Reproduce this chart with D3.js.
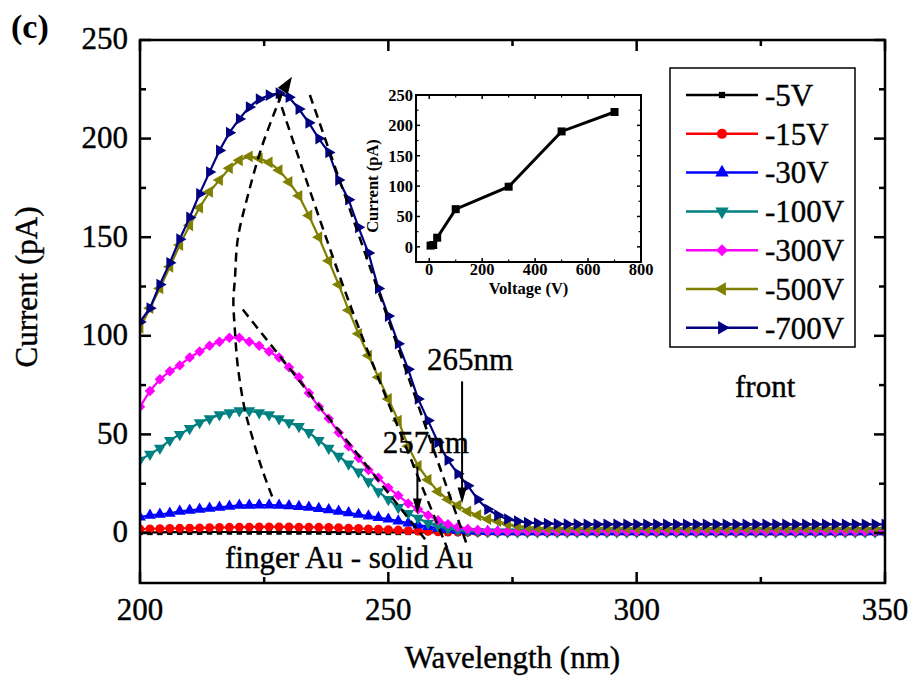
<!DOCTYPE html>
<html>
<head>
<meta charset="utf-8">
<script src="https://cdn.jsdelivr.net/npm/d3@7"></script>
<style>
  html, body { margin: 0; padding: 0; background: #fff; }
  svg { display: block; }
</style>
</head>
<body>
<svg id="chart" width="910" height="683" font-family="'Liberation Serif', 'Times New Roman', Tinos, 'DejaVu Serif', serif"></svg>
<script>
// ---------------- DATA ----------------
const wavelengths = [200,202,204,206,208,210,212,214,216,218,220,222,224,226,228,230,232,234,236,238,
  240,242,244,246,248,250,252,254,256,258,260,262,264,266,268,270,272,274,276,278,
  280,282,284,286,288,290,292,294,296,298,300,302,304,306,308,310,312,314,316,318,
  320,322,324,326,328,330,332,334,336,338,340,342,344,346,348,350];

const seriesNames = ["-5V","-15V","-30V","-100V","-300V","-500V","-700V"];
const seriesColors = ["#000000","#ff0000","#0000ff","#008080","#ff00ff","#808000","#000080"];
const seriesMarkers = ["square","circle","triangleUp","triangleDown","diamond","triangleLeft","triangleRight"];

const v5 = [0.3,0.3,0.3,0.4,0.4,0.4,0.4,0.5,0.5,0.5,0.5,0.5,0.5,0.5,0.5,0.5,0.5,0.5,0.5,0.4,
  0.4,0.4,0.4,0.4,0.3,0.3,0.3,0.3,0.3,0.3,0.3,0.2,0.2,0.2,0.2,0.2,0.2,0.2,0.2,0.2,
  0.2,0.2,0.2,0.2,0.2,0.2,0.2,0.2,0.2,0.2,0.2,0.2,0.2,0.2,0.2,0.2,0.2,0.2,0.2,0.2,
  0.2,0.2,0.2,0.2,0.2,0.2,0.2,0.2,0.2,0.2,0.2,0.2,0.2,0.2,0.2,0.2];
const v15 = [2,2.1,2.2,2.3,2.4,2.5,2.6,2.7,2.8,2.9,3,3,3.1,3.1,3.1,3.1,3,3,2.9,2.8,
  2.7,2.5,2.3,2.1,1.9,1.7,1.5,1.2,1,0.8,0.6,0.5,0.4,0.4,0.3,0.3,0.3,0.3,0.3,0.3,
  0.3,0.3,0.3,0.3,0.3,0.3,0.3,0.3,0.3,0.3,0.3,0.3,0.3,0.3,0.3,0.3,0.3,0.3,0.3,0.3,
  0.3,0.3,0.3,0.3,0.3,0.3,0.3,0.3,0.3,0.3,0.3,0.3,0.3,0.3,0.3,0.3];
const v30 = [8,9,9.5,10,11,11.5,12,12.5,13,13.5,14,14,14.2,14.2,14,13.8,13.4,13,12.4,11.8,
  11,10.2,9.4,8.6,7.8,7,6,5,4,3.2,2.4,1.8,1.3,1,0.8,0.7,0.6,0.6,0.6,0.6,
  0.6,0.6,0.6,0.6,0.6,0.6,0.6,0.6,0.6,0.6,0.6,0.6,0.6,0.6,0.6,0.6,0.6,0.6,0.6,0.6,
  0.6,0.6,0.6,0.6,0.6,0.6,0.6,0.6,0.6,0.6,0.6,0.6,0.6,0.6,0.6,0.6];
const v100 = [37,40,43,47,50,53,56,58,60,61,62,62,61,60,58,56,54,51,47,43,
  39,35,31,26,21,17,13,10,7.5,5,3.5,2.2,1.4,1,0.8,0.6,0.5,0.5,0.5,0.5,
  0.5,0.5,0.5,0.5,0.5,0.5,0.5,0.5,0.5,0.5,0.5,0.5,0.5,0.5,0.5,0.5,0.5,0.5,0.5,0.5,
  0.5,0.5,0.5,0.5,0.5,0.5,0.5,0.5,0.5,0.5,0.5,0.5,0.5,0.5,0.5,0.5];
const v300 = [64,72,78,82,85,89,92,95,97,99,99,97,95,92,89,84,79,71,64,58,
  51,44,38,32,28,23,19,15,12,9,6.5,4.5,3,2,1.5,1.2,1,1,1,1,
  1,1,1,1,1,1,1,1,1,1,1,1,1,1,1,1,1,1,1,1,
  1,1,1,1,1,1,1,1,1,1,1,1,1,1,1,1];
const v500 = [104,114,124,135,146,156,165,173,179,185,189,191,190,188,184,178,171,161,150,138,
  126,113,101,90,79,68,57,44,34,27,21,17,14,11,9,7,6,4.5,3.5,3,
  2.6,2.5,2.5,2.5,2.5,2.5,2.5,2.5,2.5,2.5,2.5,2.5,2.5,2.5,2.5,2.5,2.5,2.5,2.5,2.5,
  2.5,2.5,2.5,2.5,2.5,2.5,2.5,2.5,2.5,2.5,2.5,2.5,2.5,2.5,2.5,2.5];
const v700 = [107,114,126,137,149,160,172,183,194,203,210,216,220,222,223,221,215,208,200,193,
  179,169,155,142,124,110,96,83,68,57,46,37,30,24,17,12,9,7,6,5.2,
  5,4.8,4.6,4.5,4.5,4.4,4.4,4.4,4.4,4.4,4.4,4.4,4.4,4.4,4.4,4.4,4.4,4.4,4.4,4.4,
  4.4,4.4,4.4,4.4,4.4,4.4,4.4,4.4,4.4,4.4,4.4,4.4,4.4,4.4,4.4,4.4];
const seriesValues = [v5, v15, v30, v100, v300, v500, v700];

const xTicksMain = [200, 250, 300, 350];
const yTicksMain = [0, 50, 100, 150, 200, 250];

// inset: peak current vs voltage
const insetVoltage = [5, 15, 30, 100, 300, 500, 700];
const insetCurrent = [2, 3, 15, 62, 99, 190, 222];
const insetXTicks = [0, 200, 400, 600, 800];
const insetYTicks = [0, 50, 100, 150, 200, 250];

// dashed guide lines (wavelength, current)
const peakShiftGuide = [[226.6,18.5],[224.6,32.2],[222.75,47.4],[221.1,62.6],[219.7,84.4],[219.1,103],
  [218.8,118],[219.1,128.4],[219.7,149.3],[221.7,171],[224.6,196.4],[228.8,224.3]];
const peakArrowTip = [230.6, 231.4];
const edgeGuide300 = [[220.7,113.3],[257.4,-3.2]];
const edgeGuide500 = [[227.6,223.1],[242.3,115.7],[261.8,-7.3]];
const edgeGuide700 = [[234.2,222.1],[266.0,-7.3]];
const cutoffArrows = [{label:"257nm", x:255.85, top:33.7, bottom:9.4, tx:248.9, ty:40.8},
                      {label:"265nm", x:264.85, top:76.9, bottom:15.0, tx:257.8, ty:82.9}];

// ---------------- LAYOUT ----------------
const svg = d3.select("#chart");
const FF = "'Liberation Serif', 'Times New Roman', Tinos, 'DejaVu Serif', serif";
const FONT = 31;
const plot = {left:140, right:885, top:40, bottom:583};

const x = d3.scaleLinear().domain([200, 350]).range([plot.left, plot.right]);
const y = d3.scaleLinear().domain([0, 250]).range([533, plot.top]);

function txt(g, heavy = true) {
  const t = g.append("text").attr("font-family", FF).attr("fill", "#000");
  if (heavy) t.attr("stroke", "#000").attr("stroke-width", 0.4);
  return t;
}

function symbolPath(kind, size) {
  let type = d3.symbolSquare, rot = 0;
  if (kind === "circle") type = d3.symbolCircle;
  else if (kind === "triangleUp") type = d3.symbolTriangle;
  else if (kind === "triangleDown") { type = d3.symbolTriangle; rot = 180; }
  else if (kind === "triangleLeft") { type = d3.symbolTriangle; rot = -90; }
  else if (kind === "triangleRight") { type = d3.symbolTriangle; rot = 90; }
  else if (kind === "diamond") { type = d3.symbolSquare; rot = 45; }
  return {d: d3.symbol().type(type).size(size)(), rot};
}
function markerSize(kind) {
  if (kind === "circle") return 62;
  if (kind === "square") return 30;
  if (kind === "diamond") return 55;
  return 60;
}

svg.append("clipPath").attr("id","plotclip").append("rect")
  .attr("x", plot.left).attr("y", plot.top)
  .attr("width", plot.right - plot.left).attr("height", plot.bottom - plot.top);

const gData = svg.append("g").attr("clip-path","url(#plotclip)");

seriesValues.forEach((vals, i) => {
  const pts = wavelengths.map((w, j) => [w, vals[j]]);
  gData.append("path")
    .attr("d", d3.line().x(d => x(d[0])).y(d => y(d[1]))(pts))
    .attr("fill","none").attr("stroke", seriesColors[i]).attr("stroke-width", 2.2);
  const sym = symbolPath(seriesMarkers[i], markerSize(seriesMarkers[i]));
  gData.selectAll(null).data(pts).enter().append("path")
    .attr("d", sym.d)
    .attr("transform", d => `translate(${x(d[0])},${y(d[1])}) rotate(${sym.rot})`)
    .attr("fill", seriesColors[i]);
});

// dashed guides
const dashStyle = g => g.attr("fill","none").attr("stroke","#000").attr("stroke-width",2.5).attr("stroke-dasharray","9,6");
svg.append("path")
  .attr("d", d3.line().curve(d3.curveCatmullRom).x(d => x(d[0])).y(d => y(d[1]))(peakShiftGuide))
  .call(dashStyle);
[edgeGuide300, edgeGuide500, edgeGuide700].forEach(g => {
  svg.append("path")
    .attr("d", d3.line().curve(d3.curveCatmullRom).x(d => x(d[0])).y(d => y(d[1]))(g))
    .call(dashStyle);
});
{
  const last = peakShiftGuide[peakShiftGuide.length - 1];
  const tx = x(peakArrowTip[0]), ty = y(peakArrowTip[1]);
  const bx = x(last[0]), by = y(last[1]);
  const dx = tx - bx, dy = ty - by, L = Math.hypot(dx, dy);
  const ux = dx / L, uy = dy / L, len = 17, hw = 6;
  const baseX = tx - ux * len, baseY = ty - uy * len;
  svg.append("path")
    .attr("d", `M${tx},${ty} L${baseX - uy*hw},${baseY + ux*hw} L${baseX + uy*hw},${baseY - ux*hw} Z`)
    .attr("fill","#000");
}

cutoffArrows.forEach(a => {
  const ax = x(a.x), y1 = y(a.top), y2 = y(a.bottom);
  svg.append("line").attr("x1", ax).attr("x2", ax).attr("y1", y1).attr("y2", y2 - 12)
    .attr("stroke","#000").attr("stroke-width", 2);
  svg.append("path").attr("d", `M${ax},${y2} L${ax-4.5},${y2-16} L${ax+4.5},${y2-16} Z`).attr("fill","#000");
  txt(svg).attr("x", x(a.tx)).attr("y", y(a.ty)).attr("font-size", FONT).text(a.label);
});

// ---------------- AXES ----------------
const axisG = svg.append("g");
axisG.append("rect").attr("x", plot.left).attr("y", plot.top)
  .attr("width", plot.right - plot.left).attr("height", plot.bottom - plot.top)
  .attr("fill","none").attr("stroke","#000").attr("stroke-width", 2.5);

const xMinor = [225, 275, 325];
xTicksMain.forEach(t => {
  axisG.append("line").attr("x1", x(t)).attr("x2", x(t)).attr("y1", plot.bottom).attr("y2", plot.bottom - 11).attr("stroke","#000").attr("stroke-width",2.5);
  axisG.append("line").attr("x1", x(t)).attr("x2", x(t)).attr("y1", plot.top).attr("y2", plot.top + 11).attr("stroke","#000").attr("stroke-width",2.5);
  txt(axisG).attr("x", x(t)).attr("y", 620).attr("text-anchor","middle").attr("font-size", FONT).text(t);
});
xMinor.forEach(t => {
  axisG.append("line").attr("x1", x(t)).attr("x2", x(t)).attr("y1", plot.bottom).attr("y2", plot.bottom - 6).attr("stroke","#000").attr("stroke-width",2.5);
  axisG.append("line").attr("x1", x(t)).attr("x2", x(t)).attr("y1", plot.top).attr("y2", plot.top + 6).attr("stroke","#000").attr("stroke-width",2.5);
});
const yMinor = [-25, 25, 75, 125, 175, 225];
yTicksMain.forEach(t => {
  axisG.append("line").attr("x1", plot.left).attr("x2", plot.left + 11).attr("y1", y(t)).attr("y2", y(t)).attr("stroke","#000").attr("stroke-width",2.5);
  axisG.append("line").attr("x1", plot.right).attr("x2", plot.right - 11).attr("y1", y(t)).attr("y2", y(t)).attr("stroke","#000").attr("stroke-width",2.5);
  txt(axisG).attr("x", 128).attr("y", y(t)).attr("dy","0.3em").attr("text-anchor","end").attr("font-size", FONT).text(t);
});
yMinor.forEach(t => {
  if (y(t) >= plot.bottom - 1) return;
  axisG.append("line").attr("x1", plot.left).attr("x2", plot.left + 6).attr("y1", y(t)).attr("y2", y(t)).attr("stroke","#000").attr("stroke-width",2.5);
  axisG.append("line").attr("x1", plot.right).attr("x2", plot.right - 6).attr("y1", y(t)).attr("y2", y(t)).attr("stroke","#000").attr("stroke-width",2.5);
});

txt(svg).attr("x", (plot.left + plot.right) / 2).attr("y", 668)
  .attr("text-anchor","middle").attr("font-size", FONT).text("Wavelength (nm)");
txt(svg).attr("transform", "translate(37,287) rotate(-90)")
  .attr("text-anchor","middle").attr("font-size", FONT).text("Current (pA)");
txt(svg, false).attr("x", 11).attr("y", 38).attr("font-size", 34).attr("font-weight","bold").text("(c)");
txt(svg).attr("x", 735).attr("y", 397).attr("font-size", FONT).text("front");
txt(svg).attr("x", 225).attr("y", 568).attr("font-size", FONT).text("finger Au - solid Au");

// ---------------- LEGEND ----------------
const legend = svg.append("g");
legend.append("rect").attr("x", 670).attr("y", 68).attr("width", 185).attr("height", 279)
  .attr("fill","#fff").attr("stroke","#000").attr("stroke-width", 1.5);
seriesNames.forEach((name, i) => {
  const ly = 95 + i * 38.8;
  legend.append("line").attr("x1", 686).attr("x2", 758).attr("y1", ly).attr("y2", ly)
    .attr("stroke", seriesColors[i]).attr("stroke-width", 2.5);
  const sym = symbolPath(seriesMarkers[i], markerSize(seriesMarkers[i]) * 1.3);
  legend.append("path").attr("d", sym.d)
    .attr("transform", `translate(722,${ly}) rotate(${sym.rot})`).attr("fill", seriesColors[i]);
  txt(legend).attr("x", 765).attr("y", ly).attr("dy","0.35em").attr("font-size", FONT).text(name);
});

// ---------------- INSET ----------------
const inset = {left:416, right:641, top:95, bottom:262};
const ix = d3.scaleLinear().domain([-50, 800]).range([inset.left, inset.right]);
const iy = d3.scaleLinear().domain([-25, 250]).range([inset.bottom, inset.top]);
const ig = svg.append("g");
ig.append("rect").attr("x", inset.left).attr("y", inset.top)
  .attr("width", inset.right - inset.left).attr("height", inset.bottom - inset.top)
  .attr("fill","#fff").attr("stroke","#000").attr("stroke-width", 2);
const IF = 16.5;
insetXTicks.forEach(t => {
  ig.append("line").attr("x1", ix(t)).attr("x2", ix(t)).attr("y1", inset.bottom).attr("y2", inset.bottom - 4).attr("stroke","#000").attr("stroke-width",1.5);
  ig.append("line").attr("x1", ix(t)).attr("x2", ix(t)).attr("y1", inset.top).attr("y2", inset.top + 4).attr("stroke","#000").attr("stroke-width",1.5);
  txt(ig, false).attr("x", ix(t)).attr("y", 275).attr("text-anchor","middle").attr("font-size", IF).attr("font-weight","bold").text(t);
});
[100, 300, 500, 700].forEach(t => {
  ig.append("line").attr("x1", ix(t)).attr("x2", ix(t)).attr("y1", inset.bottom).attr("y2", inset.bottom - 2.5).attr("stroke","#000").attr("stroke-width",1.2);
  ig.append("line").attr("x1", ix(t)).attr("x2", ix(t)).attr("y1", inset.top).attr("y2", inset.top + 2.5).attr("stroke","#000").attr("stroke-width",1.2);
});
insetYTicks.forEach(t => {
  ig.append("line").attr("x1", inset.left).attr("x2", inset.left + 4).attr("y1", iy(t)).attr("y2", iy(t)).attr("stroke","#000").attr("stroke-width",1.5);
  ig.append("line").attr("x1", inset.right).attr("x2", inset.right - 4).attr("y1", iy(t)).attr("y2", iy(t)).attr("stroke","#000").attr("stroke-width",1.5);
  txt(ig, false).attr("x", 413).attr("y", iy(t)).attr("dy","0.35em").attr("text-anchor","end").attr("font-size", IF).attr("font-weight","bold").text(t);
});
[25, 75, 125, 175, 225].forEach(t => {
  ig.append("line").attr("x1", inset.left).attr("x2", inset.left + 2.5).attr("y1", iy(t)).attr("y2", iy(t)).attr("stroke","#000").attr("stroke-width",1.2);
  ig.append("line").attr("x1", inset.right).attr("x2", inset.right - 2.5).attr("y1", iy(t)).attr("y2", iy(t)).attr("stroke","#000").attr("stroke-width",1.2);
});
const ipts = insetVoltage.map((v, i) => [v, insetCurrent[i]]);
ig.append("path").attr("d", d3.line().x(d => ix(d[0])).y(d => iy(d[1]))(ipts))
  .attr("fill","none").attr("stroke","#000").attr("stroke-width", 3);
ig.selectAll(null).data(ipts).enter().append("rect")
  .attr("x", d => ix(d[0]) - 4).attr("y", d => iy(d[1]) - 4).attr("width", 8).attr("height", 8).attr("fill","#000");
txt(ig, false).attr("x", (inset.left + inset.right) / 2).attr("y", 294)
  .attr("text-anchor","middle").attr("font-size", IF).attr("font-weight","bold").text("Voltage (V)");
txt(ig, false).attr("transform", "translate(378,186) rotate(-90)")
  .attr("text-anchor","middle").attr("font-size", IF).attr("font-weight","bold").text("Current (pA)");
</script>
</body>
</html>
